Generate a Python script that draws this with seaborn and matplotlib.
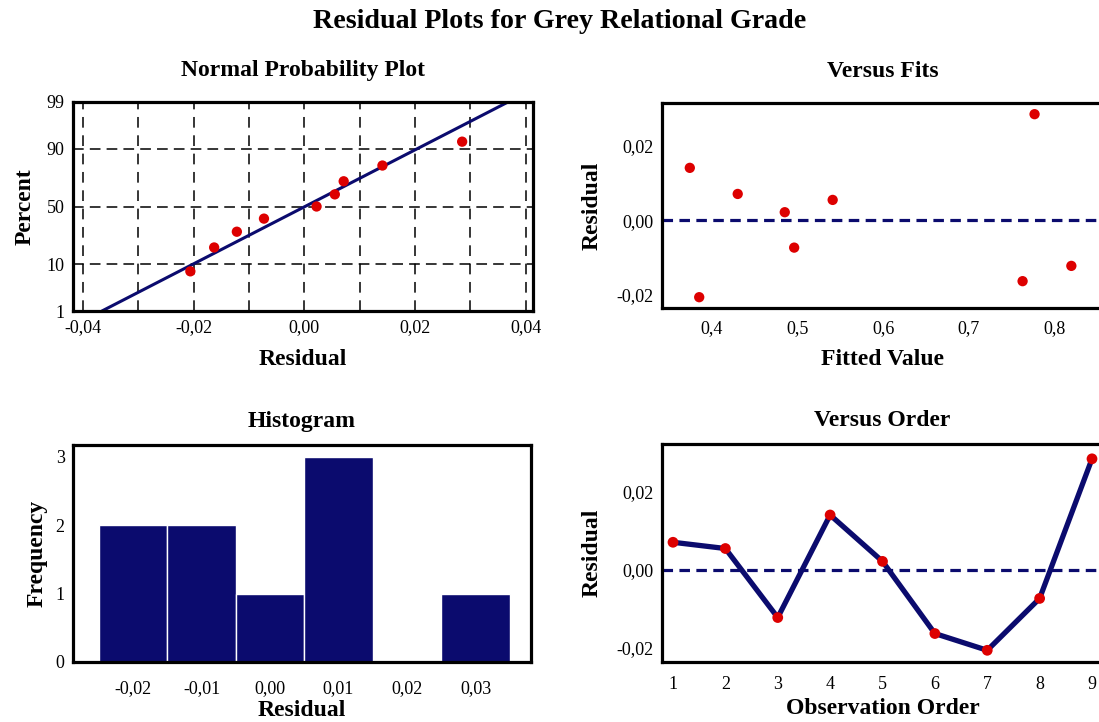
import numpy as np
import pandas as pd
import matplotlib
matplotlib.use("Agg")
import matplotlib.pyplot as plt
import seaborn as sns
from matplotlib.ticker import FuncFormatter
from statistics import NormalDist

# Residuos en orden de observacion y sus valores ajustados
orden = [1, 2, 3, 4, 5, 6, 7, 8, 9]
residuos = [0.0071, 0.0055, -0.0122, 0.0141, 0.0022, -0.0163, -0.0206, -0.0073, 0.0285]
ajustados = [0.430, 0.541, 0.820, 0.374, 0.485, 0.763, 0.385, 0.496, 0.777]

# Histograma: bordes de clase y centros
bordes = [-0.025, -0.015, -0.005, 0.005, 0.015, 0.025, 0.035]
centros = [-0.02, -0.01, 0.00, 0.01, 0.02, 0.03]

# Escala de probabilidad normal
pct_ticks = [1, 10, 50, 90, 99]
npp_major = [-0.04, -0.02, 0.00, 0.02, 0.04]
npp_grid = [-0.04, -0.03, -0.02, -0.01, 0.00, 0.01, 0.02, 0.03, 0.04]

AZUL = "#0b0b6e"
ROJO = "#dd0000"
W, H = 1099, 722

sns.set_style("white")
plt.rcParams["font.family"] = ["Liberation Serif", "DejaVu Serif"]
plt.rcParams["text.color"] = "black"
plt.rcParams["axes.labelcolor"] = "black"


def coma(dec):
    def f(v, p):
        s = f"{v:.{dec}f}"
        if s.startswith("-") and float(s) == 0:
            s = s[1:]
        return s.replace(".", ",")
    return FuncFormatter(f)


def ejes(fig, izq, der, arriba, abajo):
    return fig.add_axes([izq / W, (H - abajo) / H, (der - izq) / W, (abajo - arriba) / H])


def estilo(ax, titulo, xlab, ylab, xlpad, ylpad, tpad):
    for s in ax.spines.values():
        s.set_linewidth(2.3)
        s.set_color("black")
    ax.tick_params(direction="out", length=3, width=2, labelsize=13, pad=3, colors="black")
    ax.set_title(titulo, fontsize=17, fontweight="bold", pad=tpad)
    ax.set_xlabel(xlab, fontsize=17, fontweight="bold", labelpad=xlpad)
    ax.set_ylabel(ylab, fontsize=17, fontweight="bold", labelpad=ylpad)


fig = plt.figure(figsize=(W / 100, H / 100), dpi=100)
fig.text(559.5 / W, 1 - 21 / H, "Residual Plots for Grey Relational Grade",
         ha="center", va="center", fontsize=20.2, fontweight="bold")

# --- Normal Probability Plot ---
ax1 = ejes(fig, 73, 533, 102, 311)
nd = NormalDist()
ordenados = np.sort(residuos)
n = len(ordenados)
z_pts = [nd.inv_cdf((i - 0.3) / (n + 0.4)) for i in range(1, n + 1)]
mu, sd = np.mean(residuos), np.std(residuos, ddof=1)
z_lin = np.array([nd.inv_cdf(0.01), nd.inv_cdf(0.99)])
linea = pd.DataFrame({"x": mu + sd * z_lin, "z": z_lin})
sns.lineplot(data=linea, x="x", y="z", color=AZUL, lw=2.2, ax=ax1)
sns.scatterplot(x=ordenados, y=z_pts, color=ROJO, s=55, edgecolor="none", ax=ax1, zorder=3)
ax1.set_xlim(-0.0418, 0.0413)
ax1.set_ylim(z_lin[0], z_lin[1])
ax1.set_xticks(npp_major)
ax1.xaxis.set_major_formatter(coma(2))
for g in npp_grid:
    ax1.axvline(g, color="black", ls=(0, (7, 5)), lw=1.1, zorder=0)
ax1.set_yticks([nd.inv_cdf(p / 100) for p in pct_ticks])
ax1.set_yticklabels([str(p) for p in pct_ticks])
ax1.grid(True, which="major", axis="y", color="black", ls=(0, (7, 4)), lw=1.1)
ax1.set_axisbelow(True)
estilo(ax1, "Normal Probability Plot", "Residual", "Percent", 9, 8, 19)

# --- Versus Fits ---
ax2 = ejes(fig, 662, 1103, 103, 308)
ax2.axhline(0, color=AZUL, lw=2.3, dashes=(3.3, 2.0))
sns.scatterplot(x=ajustados, y=residuos, color=ROJO, s=55, edgecolor="none", ax=ax2, zorder=3)
ax2.set_xlim(0.3415, 0.857)
ax2.set_ylim(-0.0235, 0.0315)
ax2.set_xticks([0.4, 0.5, 0.6, 0.7, 0.8])
ax2.set_yticks([-0.02, 0.0, 0.02])
ax2.xaxis.set_major_formatter(coma(1))
ax2.yaxis.set_major_formatter(coma(2))
estilo(ax2, "Versus Fits", "Fitted Value", "Residual", 8, 10, 19)
ax2.tick_params(axis="x", pad=6)

# --- Histogram ---
ax3 = ejes(fig, 73, 531, 445, 662)
sns.histplot(x=residuos, bins=bordes, color=AZUL, edgecolor="white", linewidth=1,
             alpha=1, ax=ax3)
ax3.set_xlim(-0.02876, 0.0381)
ax3.set_ylim(0, 3.175)
ax3.set_xticks(centros)
ax3.set_yticks([0, 1, 2, 3])
ax3.xaxis.set_major_formatter(coma(2))
estilo(ax3, "Histogram", "Residual", "Frequency", 2, 6, 13)
ax3.tick_params(axis="x", length=2, pad=11)

# --- Versus Order ---
ax4 = ejes(fig, 662, 1103, 444, 662)
ax4.axhline(0, color=AZUL, lw=2.3, dashes=(3.3, 2.0))
sns.lineplot(x=orden, y=residuos, color=AZUL, lw=3.8, ax=ax4)
sns.scatterplot(x=orden, y=residuos, color=ROJO, s=60, edgecolor="none", ax=ax4, zorder=3)
ax4.set_xlim(0.79, 9.21)
ax4.set_ylim(-0.0236, 0.0323)
ax4.set_xticks(orden)
ax4.set_yticks([-0.02, 0.0, 0.02])
ax4.yaxis.set_major_formatter(coma(2))
estilo(ax4, "Versus Order", "Observation Order", "Residual", 4, 10, 13)
ax4.tick_params(axis="x", pad=7)

fig.savefig("out.png", dpi=100)
